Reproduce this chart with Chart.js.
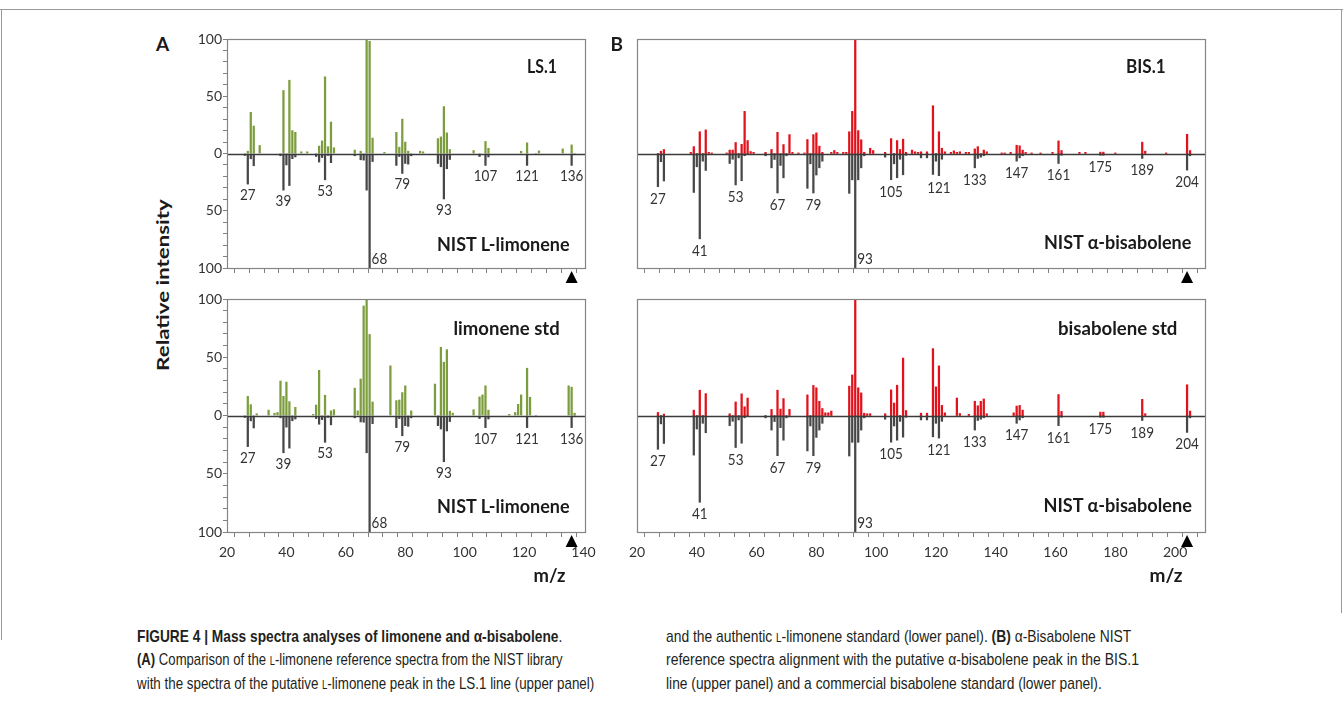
<!DOCTYPE html>
<html><head><meta charset="utf-8">
<script src="https://cdn.jsdelivr.net/npm/chart.js@4.4.0/dist/chart.umd.min.js"></script>
<style>
body{margin:0;background:#fff;width:1343px;height:703px;overflow:hidden;position:relative;font-family:Lato,'Open Sans',sans-serif;}
.wrap{position:absolute;}
.lbl{position:absolute;white-space:nowrap;font-weight:bold;color:#1a1a1a;font-family:Lato,'Open Sans',sans-serif;font-size:18px;line-height:22px;transform-origin:50% 50%;}
.cap{position:absolute;white-space:nowrap;font-family:'Liberation Sans',Arial,sans-serif;font-size:17px;line-height:20px;color:#231f20;transform-origin:0 50%;}
.sc{font-variant:small-caps;}
.rule{position:absolute;background:#9a9a9a;}
</style></head><body>

<div class="rule" style="left:0;top:9px;width:1343px;height:1px"></div>
<div class="rule" style="left:1px;top:9px;width:1px;height:631px"></div>
<div class="rule" style="left:1341px;top:9px;width:1px;height:604px"></div>

<div class="cap" id="c1" style="left:137px;top:627px"><b>FIGURE 4 | Mass spectra analyses of limonene and α-bisabolene</b>.</div>
<div class="cap" id="c2" style="left:137px;top:650px"><b>(A)</b> Comparison of the <span class="sc">l</span>-limonene reference spectra from the NIST library</div>
<div class="cap" id="c3" style="left:137px;top:674px">with the spectra of the putative <span class="sc">l</span>-limonene peak in the LS.1 line (upper panel)</div>
<div class="cap" id="c4" style="left:666px;top:627px">and the authentic <span class="sc">l</span>-limonene standard (lower panel). <b>(B)</b> α-Bisabolene NIST</div>
<div class="cap" id="c5" style="left:666px;top:650px">reference spectra alignment with the putative α-bisabolene peak in the BIS.1</div>
<div class="cap" id="c6" style="left:666px;top:674px">line (upper panel) and a commercial bisabolene standard (lower panel).</div>

<script>
// ---------------- DATA ----------------
// Panel A, upper: LS.1 sample spectrum (green)
const ls1Mz  = [27,28,29,31,39,41,42,43,45,47,51,52,53,54,55,56,63,65,67,68,69,73,77,78,79,80,81,85,86,91,92,93,94,95,103,107,108,119,121,125,133,136];
const ls1Int = [2,36,24,7,55,64,20,18.5,1.5,1.5,6.5,11,67,6,27.5,5,3,2,100,98,13.5,1,18.5,5.5,30,10,2,2,1.5,13,14.5,41,18,3.5,2.6,10.5,4.6,2,9.3,2.3,4,7.5];
// Panel A, lower: limonene standard (green)
const limStdMz  = [27,28,30,34,36,37,38,39,40,41,43,49,50,51,53,55,56,63,64,65,66,67,68,69,75,77,78,79,80,82,90,92,93,94,95,96,103,105,106,107,108,115,117,118,119,121,122,135,136,137];
const limStdInt = [16.5,9.3,1.5,4.6,2,2.6,29.6,16.5,28.7,11.9,7,1,9,38.8,17.4,4,5,23.5,4,31.3,94,100,69.6,11.6,42.6,12.8,13.3,19.7,25.5,4,27,58.6,45.8,56.5,3.8,2,5,16,17.7,25.5,4.6,1,2.6,9.6,17.7,40.6,15.7,25.5,24.3,2];
// NIST L-limonene reference (grey, drawn downward)
const nistLimMz  = [26,27,28,29,38,39,40,41,42,43,50,51,52,53,54,55,63,65,66,67,68,69,77,78,79,80,81,82,91,92,93,94,95,105,107,108,121,124,136,137];
const nistLimInt = [1.7,26.7,4.6,10.7,2,32,10,28,4.5,3,2.6,7.5,3.5,23,1.7,8,2,5.5,5.8,32,100,7,10.4,2.6,17.4,8.7,9.3,2,8.7,11.6,39.7,13.3,5.2,2.6,10.4,3,10.4,1,10.4,1];
const limPeakLabels = [27,39,53,79,93,107,121,136];
const limBasePeak = 68;
const limMolIon = 136;

// Panel B, upper: BIS.1 sample spectrum (red)
const bis1Mz  = [28,29,38,39,41,43,44,45,50,51,52,53,55,56,57,58,59,63,65,67,69,71,72,74,76,77,79,80,81,82,85,86,87,89,90,91,92,93,94,95,96,98,99,103,105,107,108,109,110,112,113,114,115,117,119,121,122,123,125,126,127,128,130,131,133,134,136,137,142,143,145,147,148,149,150,152,155,159,161,162,168,170,175,176,180,189,190,197,204,205];
const bis1Int = [2,3.5,1,6,19,20.6,1,0.5,0.5,3,3,9.6,8,36.8,11.3,1.7,1,1,3.5,18.5,7.8,16.5,1,0.5,0.5,12.2,16.5,18,6.4,1,1,2.6,1,1,1,19,36.8,100,20,12,1,4.6,2.6,1,13,11.3,3.5,12.5,1,3,1.5,1,1.5,1.5,41.7,19,4.6,1.5,1,2.3,1,1.5,1,1,4,6,3,1.5,0.5,0.5,1,7.2,6.7,2.9,1,0.5,0.5,1,11,2.6,1,1,1.2,1.2,0.5,9.9,2,0.5,16.8,2.6];
// Panel B, lower: bisabolene standard (red)
const bisStdMz  = [27,29,39,41,43,51,53,55,56,57,65,67,68,69,71,77,79,80,81,82,83,84,85,91,92,93,94,95,96,97,98,103,105,106,107,109,110,115,117,119,120,121,122,123,127,128,131,133,134,135,136,137,146,147,148,149,161,162,175,176,189,190,204,205];
const bisStdInt = [2.6,1.2,4.6,21.7,18.8,1.5,11.6,18.6,7.5,15,5.2,21.7,5.5,14.5,5.2,17.7,25.8,23.8,12.2,6,2.3,2.3,3.8,25.2,34.8,100,23.8,19.4,2,1.5,1.5,1.5,22,10.7,26,49.3,4.3,2,2,57.4,24.6,42.6,8.7,2.3,15,1.7,1,12.2,8.4,12.2,14.2,1.5,2.3,8.1,8.7,4.6,18,3.5,2.9,2.9,13.9,1.5,26.4,3.8];
// NIST alpha-bisabolene reference (grey, drawn downward)
const nistBisMz  = [27,28,29,39,40,41,42,43,51,52,53,54,55,56,57,63,65,66,67,68,69,70,77,78,79,80,81,82,91,92,93,94,95,96,103,105,106,107,108,109,110,115,117,119,120,121,122,133,134,135,136,147,148,149,161,162,175,176,189,204,205];
const nistBisInt = [29,7.2,24,34,11.6,74.5,6.7,14.8,8.7,5,27.5,3.8,23.8,2,1,2,12.5,5.2,34.5,10.4,21.2,2,30.4,9,34.5,18.8,12.5,6.7,34.8,23,100,23,12.5,2,3.2,22.9,9,21.2,5,18.6,1.5,3.8,3.8,18.3,6.7,19.4,5,12.5,4.3,3.2,2,6.7,3.8,2,8.7,1.5,1.5,1.5,4.3,14.5,2];
const bisPeakLabels = [27,41,53,67,79,105,121,133,147,161,175,189,204];
const bisBasePeak = 93;
const bisMolIon = 204;

// ---------------- DRAWING ----------------
const GREEN = '#7c9d3d', RED = '#e1121b', GREY = '#474747';
const FONT = 'Lato, "Open Sans", sans-serif';

const specPlugin = {
  id: 'spec',
  afterDatasetsDraw(chart, args, o) {
    const {ctx, chartArea: a, scales: {x, y}} = chart;
    ctx.save();
    const y0 = Math.round(y.getPixelForValue(0)) + 0.5;
    ctx.strokeStyle = '#3a3a3a'; ctx.lineWidth = 1.3;
    ctx.beginPath(); ctx.moveTo(a.left, y0); ctx.lineTo(a.right, y0); ctx.stroke();
    ctx.strokeStyle = '#858585'; ctx.lineWidth = 1.2;
    ctx.strokeRect(Math.round(a.left) + 0.5, Math.round(a.top) + 0.5,
                   Math.round(a.right - a.left), Math.round(a.bottom - a.top));
    ctx.restore();
  },
  afterDraw(chart, args, o) {
    const {ctx, chartArea: a, scales: {x, y}} = chart;
    ctx.save();
    ctx.fillStyle = '#333';
    ctx.font = '13.5px ' + FONT;
    ctx.textAlign = 'center'; ctx.textBaseline = 'middle';
    o.peaks.forEach(m => {
      const v = o.nInt[o.nMz.indexOf(m)];
      const px = x.getPixelForValue(m);
      const py = y.getPixelForValue(-v) + o.gap;
      ctx.save(); ctx.translate(px, py); ctx.scale(1, 1.15);
      ctx.fillText(String(m), 0, 0); ctx.restore();
    });
    ctx.textAlign = 'left';
    ctx.save();
    ctx.translate(x.getPixelForValue(o.base) + 2, a.bottom - 9); ctx.scale(1, 1.15);
    ctx.fillText(String(o.base), 0, 0); ctx.restore();
    // molecular ion marker
    const ax = x.getPixelForValue(o.arrow);
    ctx.fillStyle = '#000';
    ctx.beginPath();
    ctx.moveTo(ax - 6, a.bottom + 15); ctx.lineTo(ax + 6, a.bottom + 15); ctx.lineTo(ax, a.bottom + 3);
    ctx.closePath(); ctx.fill();
    ctx.restore();
  }
};

function makeConfig(p) {
  return {
    type: 'bar',
    data: { datasets: [
      { data: p.sMz.map((m, i) => ({x: m, y: p.sInt[i]})), backgroundColor: p.color,
        barThickness: 1.6, grouped: false, borderWidth: 0 },
      { data: p.nMz.map((m, i) => ({x: m, y: -p.nInt[i]})), backgroundColor: GREY,
        barThickness: 1.6, grouped: false, borderWidth: 0 }
    ]},
    options: {
      responsive: true, maintainAspectRatio: false, animation: false, events: [],
      layout: {padding: {top: 12, right: 18, bottom: 0, left: p.yAxis ? 0 : 4}},
      plugins: {
        legend: {display: false}, tooltip: {enabled: false},
        spec: {peaks: p.peaks, base: p.base, arrow: p.arrow, nMz: p.nMz, nInt: p.nInt, gap: p.gap}
      },
      scales: {
        x: {
          type: 'linear', min: p.xMin, max: p.xMax, offset: false,
          grid: {drawOnChartArea: false, drawTicks: true, tickLength: 5, tickColor: '#7f7f7f', tickWidth: 1},
          border: {display: false},
          ticks: {stepSize: 5, includeBounds: false, autoSkip: false, maxRotation: 0, padding: 7,
                  color: '#333', font: {family: FONT, size: 14},
                  callback: v => (p.xLabels && v % 20 === 0) ? String(v) : ''},
          afterFit: s => { s.height = p.xLabels ? 34 : 18; }
        },
        y: {
          display: p.yAxis, min: -100, max: 100,
          grid: {drawOnChartArea: false, drawTicks: true, tickLength: 4, tickColor: '#7f7f7f'},
          border: {display: false},
          ticks: {stepSize: 10, autoSkip: false, padding: 1, color: '#333', font: {family: FONT, size: 14},
                  callback: v => (v % 50 === 0) ? String(Math.abs(v)) : ''},
          afterFit: s => { s.width = 40; }
        }
      }
    },
    plugins: [specPlugin]
  };
}

function buildPanel(rect, p) {
  const wrap = document.createElement('div'); wrap.className = 'wrap';
  const cv = document.createElement('canvas'); wrap.appendChild(cv); document.body.appendChild(wrap);
  wrap.style.left = '0px'; wrap.style.top = '0px';
  wrap.style.width = (rect.r - rect.l + 80) + 'px'; wrap.style.height = (rect.b - rect.t + 80) + 'px';
  let ch = new Chart(cv, makeConfig(p));
  const a = ch.chartArea, W = ch.width, H = ch.height;
  const mL = a.left, mT = a.top, mR = W - a.right, mB = H - a.bottom;
  ch.destroy();
  wrap.style.left = (rect.l - mL) + 'px'; wrap.style.top = (rect.t - mT) + 'px';
  wrap.style.width = (rect.r - rect.l + mL + mR) + 'px';
  wrap.style.height = (rect.b - rect.t + mT + mB) + 'px';
  return new Chart(cv, makeConfig(p));
}

const limCommon = {nMz: nistLimMz, nInt: nistLimInt, peaks: limPeakLabels, base: limBasePeak,
                   arrow: limMolIon, xMin: 20, xMax: 140.5, color: GREEN, yAxis: true, gap: 11};
const bisCommon = {nMz: nistBisMz, nInt: nistBisInt, peaks: bisPeakLabels, base: bisBasePeak,
                   arrow: bisMolIon, xMin: 20, xMax: 210, color: RED, yAxis: false, gap: 12};

buildPanel({l: 227, t: 39, r: 585, b: 268}, Object.assign({}, limCommon, {sMz: ls1Mz, sInt: ls1Int, xLabels: false}));
buildPanel({l: 227, t: 299, r: 585, b: 532}, Object.assign({}, limCommon, {sMz: limStdMz, sInt: limStdInt, xLabels: true}));
buildPanel({l: 637, t: 39, r: 1205, b: 268}, Object.assign({}, bisCommon, {sMz: bis1Mz, sInt: bis1Int, xLabels: false}));
buildPanel({l: 637, t: 299, r: 1205, b: 532}, Object.assign({}, bisCommon, {sMz: bisStdMz, sInt: bisStdInt, xLabels: true}));

// ---------------- TEXT ----------------
function addLabel(text, cx, cy, targetW, opts) {
  opts = opts || {};
  const el = document.createElement('div'); el.className = 'lbl'; el.textContent = text;
  if (opts.size) el.style.fontSize = opts.size + 'px';
  document.body.appendChild(el);
  const w = el.offsetWidth, h = el.offsetHeight;
  el.style.left = (cx - w / 2) + 'px'; el.style.top = (cy - h / 2) + 'px';
  const s = targetW ? targetW / w : 1;
  el.style.transform = (opts.rotate ? 'rotate(-90deg) ' : '') + 'scaleX(' + s + ')';
}
addLabel('A', 162.5, 44, 0, {size: 19});
addLabel('B', 617, 44, 0, {size: 19});
addLabel('LS.1', 542, 66, 30);
addLabel('NIST L-limonene', 503.5, 243.5, 133);
addLabel('limonene std', 506, 327.5, 106);
addLabel('NIST L-limonene', 503.5, 505.5, 133);
addLabel('BIS.1', 1146, 66, 40);
addLabel('NIST α-bisabolene', 1117.5, 241.5, 147);
addLabel('bisabolene std', 1117.5, 327.5, 119);
addLabel('NIST α-bisabolene', 1117.5, 505, 148);
addLabel('m/z', 549, 575, 32, {size: 19});
addLabel('m/z', 1166, 575, 33, {size: 19});
addLabel('Relative intensity', 163, 285, 172, {rotate: true, size: 17});

const capTargets = {c1: 425, c2: 426, c3: 457, c4: 465, c5: 473, c6: 436};
Object.keys(capTargets).forEach(id => {
  const el = document.getElementById(id);
  el.style.transform = 'scaleX(' + (capTargets[id] / el.offsetWidth) + ')';
});
</script>
</body></html>
